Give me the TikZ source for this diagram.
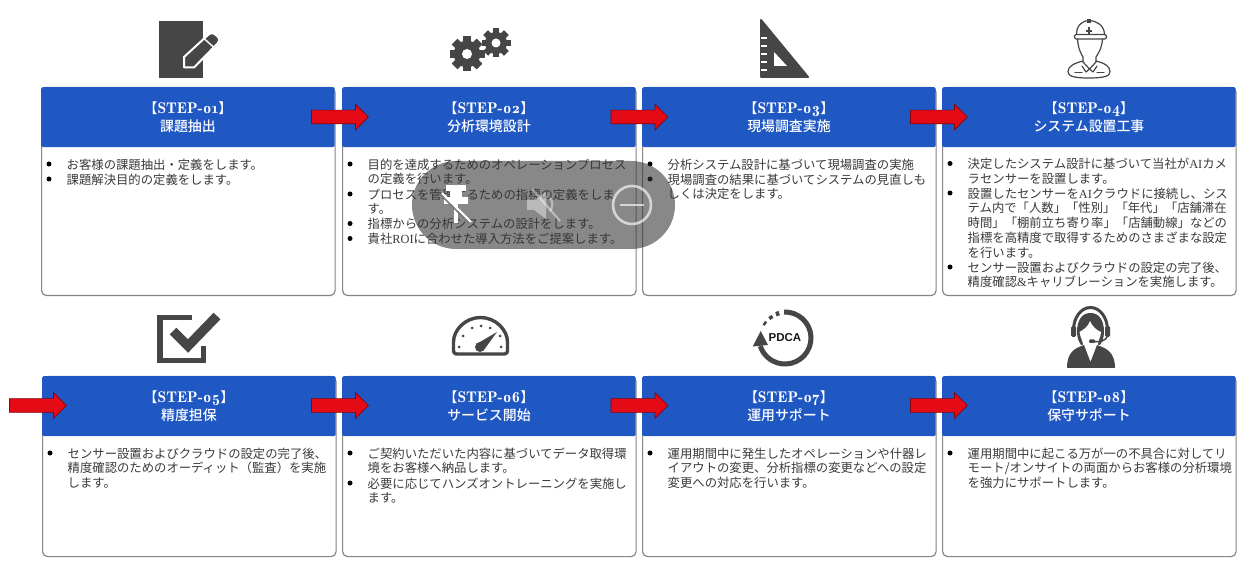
\documentclass[tikz,border=0pt]{standalone}
\usepackage{fontspec}
\usetikzlibrary{shapes.arrows}
\setmainfont{Noto Sans CJK JP}[BoldFont={Noto Sans CJK JP Medium}]
\newfontfamily\serlat{Liberation Serif}
\newfontfamily\ttlfont[Numbers=OldStyle]{Latin Modern Roman Demi}
\newfontfamily\sanslat{Liberation Sans}
\definecolor{hdrblue}{HTML}{1F57C3}
\definecolor{arrred}{HTML}{E50B16}
\definecolor{iconc}{HTML}{464646}
\definecolor{txtc}{HTML}{3A3A3A}
\tikzset{
  cardbox/.style={draw=black!48,line width=1.2pt,rounded corners=5pt,fill=white,anchor=north west,minimum width=293.5pt,inner sep=0pt},
  hdrbox/.style={fill=hdrblue,rounded corners=1.5pt,anchor=north west,minimum width=293.5pt,minimum height=60pt,inner sep=0pt,text=white,align=center,font=\fontsize{13.9}{18}\selectfont},
  bodytxt/.style={anchor=north west,inner sep=0pt,align=left,text=txtc,font=\fontsize{12.35}{14.8}\selectfont},
  redarrow/.style={single arrow,fill=arrred,draw=black!45!arrred,line width=.7pt,minimum height=57pt,minimum width=25pt,single arrow head extend=6pt,single arrow head indent=0pt,inner sep=0pt,shape border rotate=0},
  iconline/.style={draw=iconc,line width=1.2pt,line cap=round,line join=round},
}
\newcommand{\stepcard}[6]{% id x y height num title
  \node[cardbox,minimum height=#4pt] (card#1) at (#2,#3) {};
  \node[hdrbox] (head#1) at (#2,#3) {\rule{0pt}{12pt}{\fontsize{13.9}{18}\selectfont【}{\fontsize{15.5}{18}\selectfont\ttlfont STEP-#5}{\fontsize{13.9}{18}\selectfont】}\\\bfseries #6};
}
\newcommand{\bul}[4]{% name x y text  (x = box left, y = first line centre)
  \fill[black] (#2+8,#3) circle (2.5);
  \node[bodytxt] (#1) at (#2+25.5,#3-6.1) {\rule{0pt}{11pt}#4};
}
\newcommand{\cog}[4]{% cx cy R hole
  \begin{scope}[shift={(#1,#2)}]
    \fill[iconc] (0,0) circle (#3*0.76);
    \foreach \a in {0,45,...,315}
      \fill[iconc,rotate=\a] (-#3*0.23,-#3) rectangle (#3*0.23,#3);
    \fill[white] (0,0) circle (#4);
  \end{scope}
}
\begin{document}
\begin{tikzpicture}[x=1pt,y=-1pt]
\useasboundingbox (0,0) rectangle (1259,561);
\fill[white] (0,0) rectangle (1259,561);
% cards
\stepcard{1}{41}{87}{208}{01}{課題抽出}
\stepcard{2}{342}{87}{208}{02}{分析環境設計}
\stepcard{3}{642}{87}{208}{03}{現場調査実施}
\stepcard{4}{942}{87}{208}{04}{システム設置工事}
\stepcard{5}{42}{376}{180}{05}{精度担保}
\stepcard{6}{342}{376}{180}{06}{サービス開始}
\stepcard{7}{642}{376}{180}{07}{運用サポート}
\stepcard{8}{942}{376}{180}{08}{保守サポート}
% body text
\bul{t1a}{41}{164}{お客様の課題抽出・定義をします。}
\bul{t1b}{41}{179}{課題解決目的の定義をします。}
\bul{t2a}{342}{164}{目的を達成するためのオペレーションプロセス\\の定義を行います。}
\bul{t2b}{342}{194}{プロセスを管理するための指標の定義をしま\\す。}
\bul{t2c}{342}{223.5}{指標からの分析システムの設計をします。}
\bul{t2d}{342}{238.5}{貴社{\serlat ROI}に合わせた導入方法をご提案します。}
\bul{t3a}{642}{164}{分析システム設計に基づいて現場調査の実施}
\bul{t3b}{642}{179}{現場調査の結果に基づいてシステムの見直しも\\しくは決定をします。}
\bul{t4a}{942}{163.5}{決定したシステム設計に基づいて当社が{\serlat AI}カメ\\ラセンサーを設置します。}
\bul{t4b}{942}{193}{設置したセンサーを{\serlat AI}クラウドに接続し、シス\\テム内で「人数」「性別」「年代」「店舗滞在\\時間」「棚前立ち寄り率」「店舗動線」などの\\指標を高精度で取得するためのさまざまな設定\\を行います。}
\bul{t4c}{942}{267}{センサー設置およびクラウドの設定の完了後、\\精度確認{\serlat\&}キャリブレーションを実施します。}
\bul{t5a}{42}{453}{センサー設置およびクラウドの設定の完了後、\\精度確認のためのオーディット（監査）を実施\\します。}
\bul{t6a}{342}{453}{ご契約いただいた内容に基づいてデータ取得環\\境をお客様へ納品します。}
\bul{t6b}{342}{483}{必要に応じてハンズオントレーニングを実施し\\ます。}
\bul{t7a}{642}{453}{運用期間中に発生したオペレーションや什器レ\\イアウトの変更、分析指標の変更などへの設定\\変更への対応を行います。}
\bul{t8a}{942}{453}{運用期間中に起こる万が一の不具合に対してリ\\モート/オンサイトの両面からお客様の分析環境\\を強力にサポートします。}
% arrows
\node[redarrow] (a1) at (336.5,117) {\rule{0pt}{13pt}};
\node[redarrow] (a2) at (636,117) {\rule{0pt}{13pt}};
\node[redarrow] (a3) at (935.5,117) {\rule{0pt}{13pt}};
\node[redarrow] (a4) at (34.5,405.5) {\rule{0pt}{13pt}};
\node[redarrow] (a5) at (336.5,405.5) {\rule{0pt}{13pt}};
\node[redarrow] (a6) at (636,405.5) {\rule{0pt}{13pt}};
\node[redarrow] (a7) at (935.5,405.5) {\rule{0pt}{13pt}};
% icon 1: note and pencil
\fill[iconc] (159,21) rectangle (203,78);
\draw[fill=iconc,draw=white,line width=2pt,line join=round]
  (184,57) -- (208,35) .. controls (211,32) and (214,33) .. (217,36) .. controls (220,39) and (220,41) .. (218,43) -- (194,67.5) -- (184,67.5) -- cycle;
\draw[white,line width=1.4pt] (204,38.5) -- (214.5,48);
% icon 2: gears
\cog{467}{54}{17.5}{5}
\cog{496}{43}{14.5}{4.5}
% icon 3: set square
\fill[iconc,draw=iconc,line width=2pt,line join=round] (761,20) -- (761,77) -- (808,77) -- cycle;
\fill[white] (774,52) -- (774,66) -- (787,66) -- cycle;
\foreach \yy in {38,46,54,62,70} \fill[white] (761,\yy-1) rectangle (767,\yy+1);
% icon 4: worker
\draw[iconline] (1076.5,34) .. controls (1076.5,25) and (1083,20.5) .. (1089,20.5) .. controls (1096,20.5) and (1104,25) .. (1104.5,34);
\draw[iconline,rounded corners=1.5pt] (1074.5,34.5) rectangle (1106.5,39);
\draw[iconc,line width=1.8pt] (1089,27.5) -- (1089,34) (1086,31) -- (1092,31);
\fill[iconc] (1087,19.5) rectangle (1091,23);
\draw[iconline] (1077.5,39) .. controls (1078,48) and (1081,54) .. (1083,57) -- (1083,62) (1102.5,39) .. controls (1102,48) and (1098,54) .. (1096,57) -- (1096,62);
\draw[iconline] (1083,61) .. controls (1075,63) and (1068,66) .. (1068,71.5) .. controls (1068,76) and (1073,78) .. (1089,78) .. controls (1105,78) and (1110,76) .. (1110,71.5) .. controls (1110,66) and (1104,63) .. (1096,61);
\draw[iconline] (1083,62) -- (1089.5,69) -- (1096,62) (1082,66) -- (1086,72) -- (1089.5,69) -- (1093,72) -- (1097,66);
\draw[iconline] (1075,72.5) -- (1082,72.5) (1097,72.5) -- (1104,72.5);
% icon 5: check box
\draw[iconc,line width=5.5pt,line cap=butt,line join=miter] (192,317.5) -- (160,317.5) -- (160,360.5) -- (203.5,360.5) -- (203.5,346);
\draw[white,line width=14pt,line join=miter] (173,331) -- (188,346) -- (217,316);
\draw[iconc,line width=9.5pt,line join=miter] (173,331) -- (188,346) -- (217,316);
% icon 6: gauge
\draw[iconc,line width=3.4pt,rounded corners=3pt,line join=round] (453.5,345) arc[start angle=180,end angle=360,x radius=27,y radius=27.5] -- (507.5,354) -- (453.5,354) -- cycle;
\fill[iconc] (480,347) circle (5);
\fill[iconc] (476.5,344) -- (497,332) -- (483.5,350.5) -- cycle;
\foreach \dx/\dy in {459/347,463/336,472/328,481/326,490/328,500/336,501/347} \fill[iconc] (\dx,\dy) circle (1.5);
% icon 7: PDCA
\draw[iconc,line width=5pt] (785,338) ++(-92:26) arc[start angle=-92,end angle=162,radius=26];
\fill[iconc] (760.7,331) -- (752.7,346.5) -- (768,345) -- cycle;
\draw[iconc,line width=4.5pt] (785,338) ++(-103:25.5) arc[start angle=-103,end angle=-111,radius=25.5];
\draw[iconc,line width=3.5pt] (785,338) ++(-120:25) arc[start angle=-120,end angle=-129,radius=25];
\draw[iconc,line width=2.5pt] (785,338) ++(-139:25) arc[start angle=-139,end angle=-149,radius=25];
\node[inner sep=0pt,text=black!90] (pdca) at (785,338) {\sanslat\bfseries\fontsize{11.5}{12}\selectfont PDCA};
% icon 8: headset operator
\draw[iconc,line width=3pt] (1073.5,330) arc[start angle=180,end angle=360,x radius=17,y radius=22.5];
\fill[iconc,rounded corners=1.5pt] (1071,326) rectangle (1076,337);
\fill[iconc,rounded corners=1.5pt] (1105,326) rectangle (1110,337);
\fill[iconc] (1077,332) .. controls (1077,320) and (1082,313) .. (1090.5,313) .. controls (1099,313) and (1104,320) .. (1104,332) .. controls (1104,338) and (1102,342) .. (1100,345) -- (1081,345) .. controls (1079,342) and (1077,338) .. (1077,332) -- cycle;
\fill[white] (1090,321) .. controls (1088,327) and (1083,330) .. (1079.5,332) .. controls (1080,338) and (1084,342) .. (1083,347) -- (1098,347) .. controls (1097,342) and (1101,337) .. (1101,332) .. controls (1096,330) and (1092,326) .. (1090,321) -- cycle;
\fill[iconc] (1084,345) .. controls (1076,348) and (1067,351) .. (1067,368) -- (1115,368) .. controls (1115,351) and (1105,348) .. (1097,345) -- (1090.5,362) -- cycle;
\draw[iconc,line width=1.5pt] (1107.5,336) .. controls (1106,341) and (1100,342) .. (1094,341.5);
\fill[iconc,rounded corners=1pt] (1089,339.5) rectangle (1095,343);
% video overlay pill
\fill[black!80,fill opacity=.58,rounded corners=44pt] (412,161) rectangle (675,249);
\begin{scope}
  \fill[white] (446,185) rectangle (466,191.5);
  \fill[white] (450,190) rectangle (462,197);
  \fill[white] (444,197) -- (468,197) -- (468,204) -- (444,204) -- cycle;
  \fill[white] (454,203) rectangle (458,223);
  \draw[black!52,line width=1.6pt] (440,194) -- (469,223);
  \draw[white,line width=1.8pt] (442,193) -- (471,222);
\end{scope}
\begin{scope}[white,opacity=.42]
  \fill (527,200) -- (534,200) -- (546,192) -- (546,219) -- (534,210) -- (527,210) -- cycle;
  \draw[line width=2.2pt] (550,198) arc[start angle=-40,end angle=40,radius=10];
  \draw[line width=2.2pt] (532,189) -- (560,221);
\end{scope}
\draw[white,opacity=.65,line width=2.6pt] (632,205) circle (19);
\draw[white,opacity=.65,line width=2.6pt] (620,205) -- (644,205);
\end{tikzpicture}
\end{document}
